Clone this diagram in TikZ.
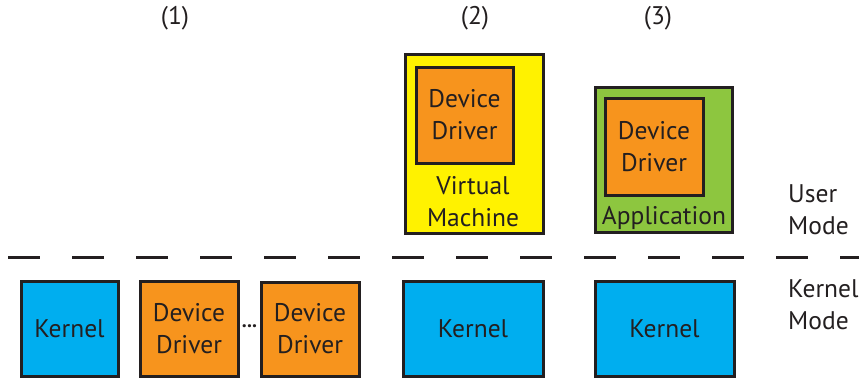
\documentclass[tikz,border=0pt]{standalone}
\usepackage{fontspec}
\setmainfont{PT Sans}
\definecolor{kblue}{HTML}{00AEEF}
\definecolor{dorange}{HTML}{F7941D}
\definecolor{vmyellow}{HTML}{FFF200}
\definecolor{appgreen}{HTML}{8DC63F}
\definecolor{ink}{HTML}{231F20}
\begin{document}
\begin{tikzpicture}[x=1pt,y=-1pt,
  box/.style={draw=ink,line width=3pt,inner sep=0pt,outer sep=0pt},
  kernelbox/.style={box,fill=kblue},
  driverbox/.style={box,fill=dorange},
  lbl/.style={font=\fontsize{25.5}{32}\selectfont,text=ink,align=center,inner sep=0pt},
  sidelbl/.style={lbl,align=left,anchor=west}]
\useasboundingbox (0,0) rectangle (859,378);

% column headings
\node[lbl] (h1) at (175,18) {(1)};
\node[lbl] (h2) at (475,18) {(2)};
\node[lbl] (h3) at (658,18) {(3)};

% user mode: virtual machine with driver
\node[box,fill=vmyellow,minimum width=138pt,minimum height=179pt] (vm) at (474,143.5) {};
\node[driverbox,minimum width=97pt,minimum height=96pt] (vmdd) at (464.5,115) {};
\node[lbl] (vmddt) at (vmdd) {Device\\Driver};
\node[lbl] (vmt) at (473,202) {Virtual\\Machine};

% user mode: application with driver
\node[box,fill=appgreen,minimum width=137pt,minimum height=145pt] (app) at (663.5,159.5) {};
\node[driverbox,minimum width=98pt,minimum height=97pt] (appdd) at (654,146.5) {};
\node[lbl] (appddt) at (appdd) {Device\\Driver};
\node[lbl] (appt) at (664,218) {Application};

% mode separator
\coordinate (sepL) at (8,257);
\coordinate (sepR) at (859,257);
\draw[ink,line width=3pt,dash pattern=on 32pt off 32pt] (sepL) -- (sepR);

% kernel mode boxes
\node[kernelbox,minimum width=97pt,minimum height=95pt] (k1) at (69.5,328.5) {};
\node[lbl] at (k1) {Kernel};
\node[driverbox,minimum width=98pt,minimum height=95pt] (d1) at (189,328.5) {};
\node[lbl] at (d1) {Device\\Driver};
\node[driverbox,minimum width=98pt,minimum height=94pt] (d2) at (310,329) {};
\node[lbl] at (d2) {Device\\Driver};
\node[lbl,font=\fontsize{20}{20}\bfseries] (dots) at (249.5,326) {...};
\node[kernelbox,minimum width=140pt,minimum height=95pt] (k2) at (473,328.5) {};
\node[lbl] at (k2) {Kernel};
\node[kernelbox,minimum width=139pt,minimum height=95pt] (k3) at (664.5,328.5) {};
\node[lbl] at (k3) {Kernel};

% mode labels
\node[sidelbl] (um) at (788,210) {User\\Mode};
\node[sidelbl] (km) at (788,305) {Kernel\\Mode};
\end{tikzpicture}
\end{document}
